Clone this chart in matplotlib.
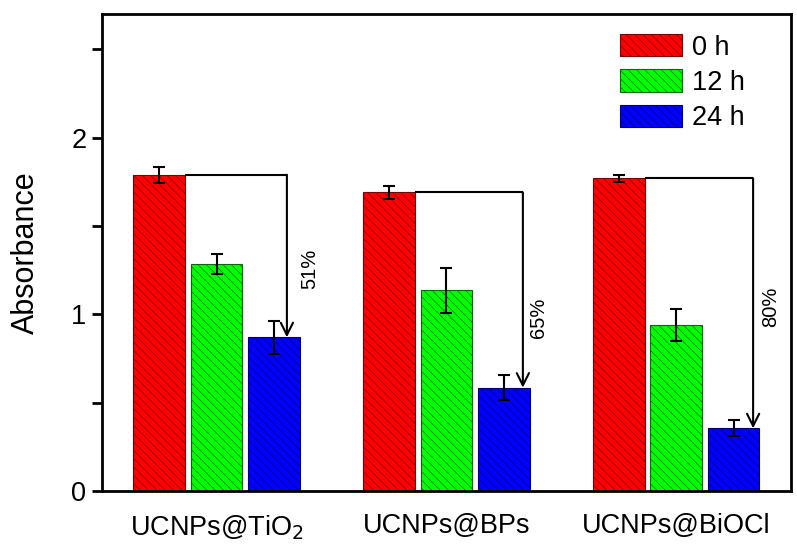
import numpy as np
import matplotlib.pyplot as plt

plt.rcParams['font.family'] = ['Liberation Sans', 'DejaVu Sans']
plt.rcParams['hatch.linewidth'] = 0.5

# data
samples = ['UCNPs@TiO$_2$', 'UCNPs@BPs', 'UCNPs@BiOCl']
times = ['0 h', '12 h', '24 h']
abs_0h = [1.79, 1.69, 1.77]
abs_12h = [1.285, 1.135, 0.94]
abs_24h = [0.87, 0.585, 0.355]
err_0h = [0.045, 0.035, 0.02]
err_12h = [0.055, 0.13, 0.09]
err_24h = [0.095, 0.07, 0.045]
drop_labels = ['51%', '65%', '80%']

colors = ['#ff0000', '#00ff00', '#0000ff']
hatch_cols = ['#7a0000', '#006a00', '#000070']

x = np.arange(1, len(samples) + 1)
w = 0.225
step = 0.25

fig = plt.figure(figsize=(7.97, 5.48), dpi=100)
ax = fig.add_axes([0.1276, 0.104, 0.8649, 0.8705])

series = [abs_0h, abs_12h, abs_24h]
errs = [err_0h, err_12h, err_24h]
for i in range(3):
    xi = x + (i - 1) * step
    ax.bar(xi, series[i], w, color=colors[i], edgecolor=hatch_cols[i],
           hatch='\\\\\\\\', linewidth=0.8, label=times[i], zorder=2)
    ax.errorbar(xi, series[i], yerr=errs[i], fmt='none', ecolor='black',
                elinewidth=1.5, capsize=4.5, capthick=1.5, zorder=3)

# arrows from 0 h level down to 24 h bar
arrow_off = [0.306, 0.333, 0.335]
text_pos = [(1.407, 1.26), (2.40, 0.98), (3.41, 1.045)]
for k in range(3):
    x0 = x[k] - step + w / 2
    xa = x[k] + arrow_off[k]
    ax.plot([x0, xa], [abs_0h[k], abs_0h[k]], color='black', lw=1.5, zorder=4,
            solid_capstyle='butt')
    ax.annotate('', xy=(xa, abs_24h[k]), xytext=(xa, abs_0h[k]),
                arrowprops=dict(arrowstyle='->', color='black', lw=1.5,
                                mutation_scale=22, shrinkA=0, shrinkB=0),
                zorder=4)
    ax.text(text_pos[k][0], text_pos[k][1], drop_labels[k], rotation=90,
            ha='center', va='center', fontsize=14.5)

ax.set_xlim(0.5, 3.5)
ax.set_ylim(0, 2.7)
ax.set_xticks(x)
ax.set_xticklabels(samples)
ax.set_yticks([0, 1, 2])
ax.set_yticks([0.5, 1.5, 2.5], minor=True)
ax.tick_params(axis='x', length=0, labelsize=19.5, pad=16)
ax.tick_params(axis='y', which='both', direction='out', length=7, width=2,
               labelsize=19.5, pad=4)
ax.set_ylabel('Absorbance', fontsize=22, labelpad=22)
for s in ax.spines.values():
    s.set_linewidth(2)

ax.legend(loc='upper left', bbox_to_anchor=(0.752, 0.958), frameon=False,
          fontsize=19.5, handlelength=2.3, handleheight=0.9, handletextpad=0.35,
          labelspacing=0.32, borderpad=0, borderaxespad=0)

fig.savefig('out.png', dpi=100)
